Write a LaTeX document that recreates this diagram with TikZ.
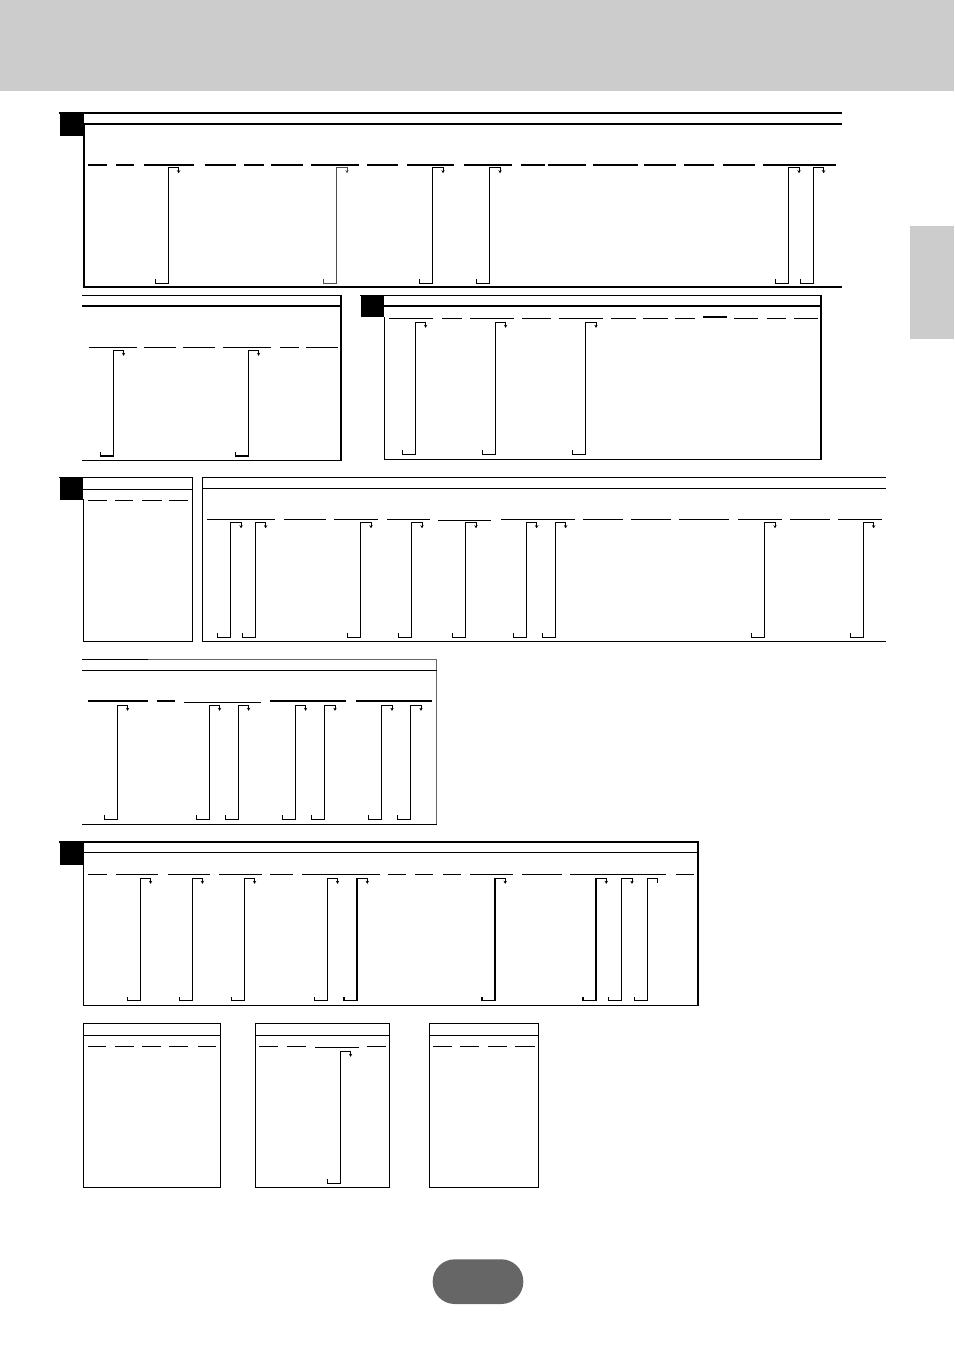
\documentclass[tikz,border=0pt]{standalone}
\usetikzlibrary{arrows.meta}
\definecolor{hdr}{HTML}{CCCCCC}
\definecolor{pill}{HTML}{666666}
\tikzset{
  ln/.style={line width=1.2pt, line cap=rect},
  fainter/.style={line width=1.2pt, draw=black!60},
  tipdown/.style={line width=0.9pt, -{Stealth[length=3pt,width=3.4pt]}},
  blk/.style={fill=black}
}
% hook: x, ytop, ybottom, colour
\newcommand\hk[4][black]{%
  \draw[ln,draw=#1] (#2+10.3,#3) -- (#2,#3) -- (#2,#4) -- (#2-13,#4) -- (#2-13,#4-3.5);
  \draw[tipdown,draw=#1,fill=#1] (#2+10.3,#3) -- (#2+10.3,#3+5.5);
}
\newcommand\hkplain[3]{%
  \draw[ln] (#1+10.3,#2) -- (#1,#2) -- (#1,#3) -- (#1-13,#3) -- (#1-13,#3-3.5);
  \draw[ln] (#1+10.3,#2) -- (#1+10.3,#2+4);
}
\newcommand\dashrow[2]{%
  \foreach \a/\b in {#2} {\draw[ln] (\a,#1) -- (\b,#1);}
}
\begin{document}
\begin{tikzpicture}[x=1pt,y=-1pt]
\useasboundingbox (0,0) rectangle (954,1351);
% header band and side tab
\fill[hdr] (0,0) rectangle (954,91);
\fill[hdr] (910,226) rectangle (954,339);
% page pill
\fill[pill, rounded corners=22pt] (432.7,1259.3) rectangle (523.3,1304);

% ===== Section 1 =====
\fill[blk] (60,113) rectangle (84,136);
\draw[ln] (60,113) -- (841,113);
\draw[ln] (84,124) -- (841,124);
\draw[ln] (84,124) -- (84,287) -- (841,287);
\dashrow{165}{88.3/106, 116.7/133.3, 144.3/193.7, 205.3/235, 245/263, 272/302, 312/358.7, 368/397.7, 408/453, 465/511.7, 522/544, 549/585, 594/637.7, 645/675, 685/713, 724/754, 764/835}
\foreach \x in {168.3, 432.7, 489.7, 788.7, 813.3} {\hk{\x}{167.7}{283.3}}
\hk[black!70]{336.7}{167.7}{283.3}

% ===== Section 2a =====
\draw[ln] (83,295.7) -- (341,295.7) -- (341,460.7) -- (83,460.7);
\draw[ln] (83,306) -- (341,306);
\dashrow{347.3}{89.3/136, 145/175, 184/214, 224/270.7, 281/298.3, 307/337}
\foreach \x in {113.3, 248.3} {\hk{\x}{350.3}{456}}

% ===== Section 2b =====
\fill[blk] (361,295.3) rectangle (384.3,317.3);
\draw[ln] (361,295.3) -- (821,295.3) -- (821,459.3) -- (384.3,459.3) -- (384.3,317.3);
\draw[ln] (384.3,306) -- (821,306);
\dashrow{318.3}{390/432.7, 442.7/461, 471/513.7, 523/550, 560/602.7, 612/635.3, 644/667.3, 676/694, 735/757.7, 767.3/785.3, 794.3/817}
\dashrow{317}{703.3/726}
\foreach \x in {415.3, 495.3, 585.7} {\hk{\x}{322.3}{454.3}}

% ===== Section 3 left =====
\fill[blk] (60,477.3) rectangle (83.3,500);
\draw[ln] (60,477.3) -- (192.7,477.3) -- (192.7,641.3) -- (83.3,641.3) -- (83.3,500);
\draw[ln] (83.3,489.3) -- (192.7,489.3);
\dashrow{500.7}{88.3/106, 116/132.3, 142.7/161, 170/187.7}

% ===== Section 3 right =====
\draw[ln] (885,477.3) -- (202.3,477.3) -- (202.3,641.7) -- (885,641.7);
\draw[ln] (202.3,488.3) -- (885,488.3);
\dashrow{519.3}{207.3/274, 284.3/325, 335/377, 387.3/429, 501.7/574, 584/622, 632/670, 680/728.7, 739/781, 791/829, 839/881}
\dashrow{520.3}{438.3/490.7}
\foreach \x in {230.7, 255.3, 360.7, 411.7, 465.7, 526.3, 555.3, 764.7, 863.3} {\hk{\x}{522.7}{637.5}}

% ===== Section 3b =====
\draw[ln] (83,659.3) -- (148,659.3);
\draw[fainter] (148,659.3) -- (436.7,659.3) -- (436.7,824.3);
\draw[ln] (83,824.3) -- (436.7,824.3);
\draw[ln] (83,670.3) -- (436.7,670.3);
\dashrow{701}{89/147.7, 157.3/174, 271/345.7, 357/431.7}
\dashrow{702.3}{185/260}
\foreach \x in {117.3, 209.3, 238.3, 295.3, 324.7, 381.7, 410.7} {\hk{\x}{705.3}{819.3}}

% ===== Section 4 =====
\fill[blk] (60,842) rectangle (84,865);
\draw[ln] (60,842) -- (698,842) -- (698,1005.7) -- (83.5,1005.7) -- (83.5,865);
\draw[ln] (84,852.5) -- (698,852.5);
\dashrow{874.3}{89/106.4, 116.3/157.7, 168.1/209.5, 219.5/260.9, 270.8/292.8, 302.7/379, 388.9/405, 415.8/432.8, 443.2/460.1, 470.9/512.7, 522.7/561.2, 570.7/665.6, 676.4/693.8}
\foreach \x in {140.3, 192.1, 244.3, 327.2, 357, 494.9, 596, 621.7} {\hk{\x}{878.3}{1000.7}}
\hkplain{647.4}{878.3}{1000.7}

% ===== Bottom boxes =====
\draw[ln] (83.3,1023.3) rectangle (220.3,1187.3);
\draw[ln] (83.3,1035.3) -- (220.3,1035.3);
\dashrow{1046.3}{88.3/105.7, 116/133.3, 143/160.3, 170/187.7, 198.3/215}

\draw[ln] (255.3,1023.3) rectangle (389.7,1187.3);
\draw[ln] (255.3,1035.3) -- (389.7,1035.3);
\dashrow{1046.3}{260/277.3, 288/305.3, 368/385}
\dashrow{1047.3}{315.3/358}
\hk{340.3}{1051.3}{1183.3}

\draw[ln] (429.3,1023.3) rectangle (538.3,1187.3);
\draw[ln] (429.3,1035.3) -- (538.3,1035.3);
\dashrow{1046.3}{434/451.7, 461/478.7, 488.7/506, 516/534}
\end{tikzpicture}
\end{document}
